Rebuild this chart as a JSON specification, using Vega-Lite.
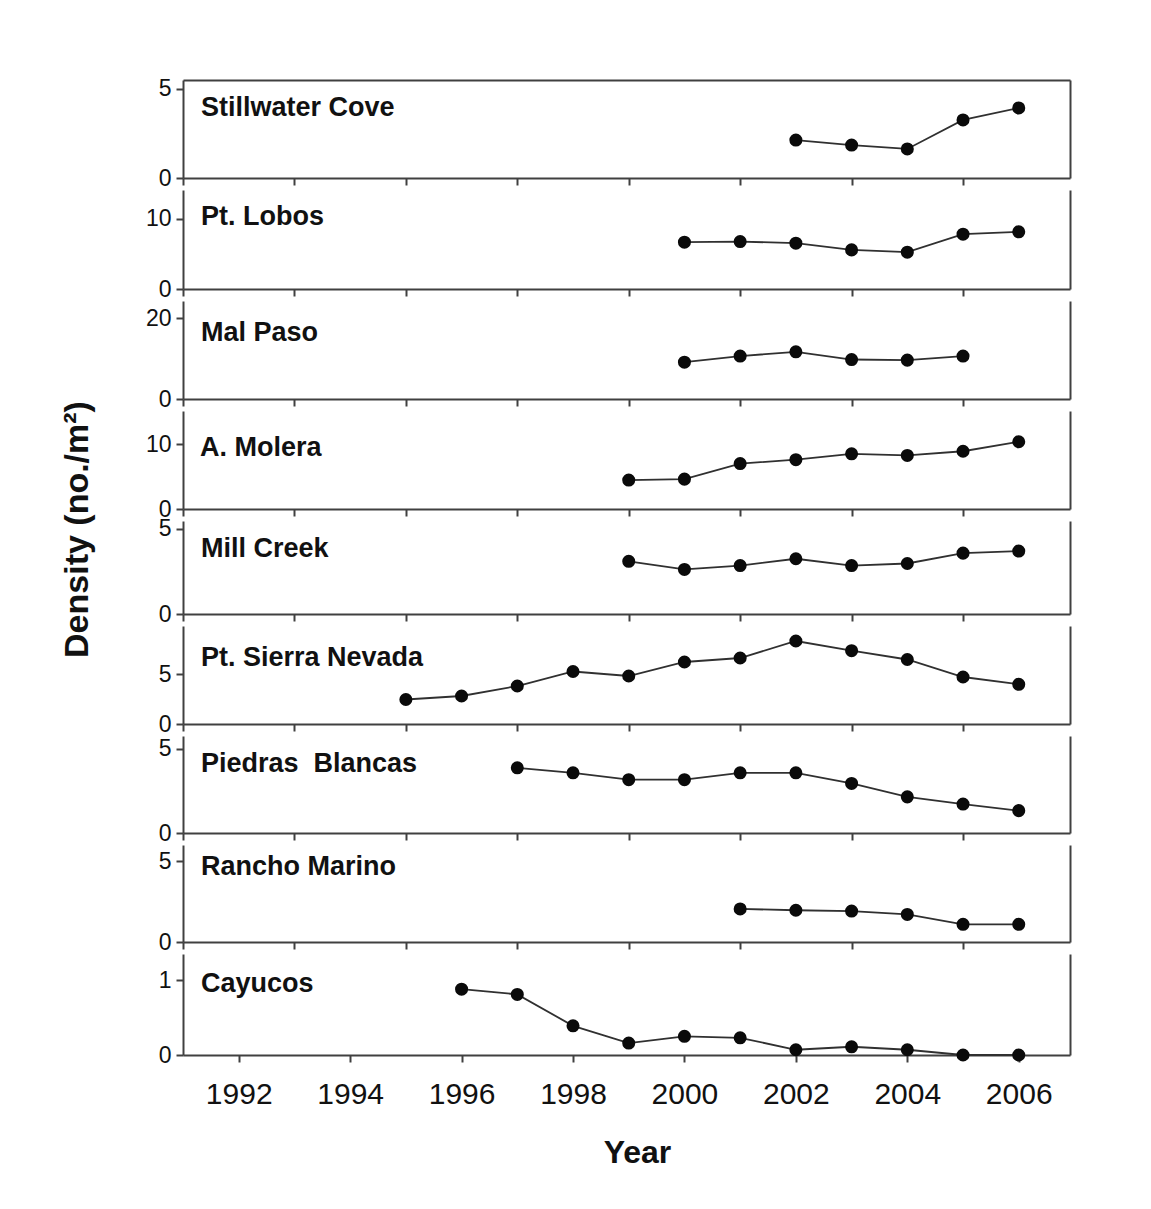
{
  "$schema": "https://vega.github.io/schema/vega-lite/v6.json",
  "background": "white",
  "padding": {"left": 60, "top": 77, "right": 20, "bottom": 20},
  "spacing": 12,
  "bounds": "flush",
  "data": {"values": [
    {"site": "Stillwater Cove", "year": 2002, "density": 2.13},
    {"site": "Stillwater Cove", "year": 2003, "density": 1.85},
    {"site": "Stillwater Cove", "year": 2004, "density": 1.63},
    {"site": "Stillwater Cove", "year": 2005, "density": 3.26},
    {"site": "Stillwater Cove", "year": 2006, "density": 3.93},
    {"site": "Pt. Lobos", "year": 2000, "density": 6.67},
    {"site": "Pt. Lobos", "year": 2001, "density": 6.76},
    {"site": "Pt. Lobos", "year": 2002, "density": 6.53},
    {"site": "Pt. Lobos", "year": 2003, "density": 5.57},
    {"site": "Pt. Lobos", "year": 2004, "density": 5.24},
    {"site": "Pt. Lobos", "year": 2005, "density": 7.81},
    {"site": "Pt. Lobos", "year": 2006, "density": 8.14},
    {"site": "Mal Paso", "year": 2000, "density": 9.1},
    {"site": "Mal Paso", "year": 2001, "density": 10.6},
    {"site": "Mal Paso", "year": 2002, "density": 11.65},
    {"site": "Mal Paso", "year": 2003, "density": 9.75},
    {"site": "Mal Paso", "year": 2004, "density": 9.6},
    {"site": "Mal Paso", "year": 2005, "density": 10.6},
    {"site": "A. Molera", "year": 1999, "density": 4.46},
    {"site": "A. Molera", "year": 2000, "density": 4.6},
    {"site": "A. Molera", "year": 2001, "density": 7.0},
    {"site": "A. Molera", "year": 2002, "density": 7.6},
    {"site": "A. Molera", "year": 2003, "density": 8.5},
    {"site": "A. Molera", "year": 2004, "density": 8.25},
    {"site": "A. Molera", "year": 2005, "density": 8.9},
    {"site": "A. Molera", "year": 2006, "density": 10.36},
    {"site": "Mill Creek", "year": 1999, "density": 3.1},
    {"site": "Mill Creek", "year": 2000, "density": 2.62},
    {"site": "Mill Creek", "year": 2001, "density": 2.85},
    {"site": "Mill Creek", "year": 2002, "density": 3.25},
    {"site": "Mill Creek", "year": 2003, "density": 2.85},
    {"site": "Mill Creek", "year": 2004, "density": 2.97},
    {"site": "Mill Creek", "year": 2005, "density": 3.58},
    {"site": "Mill Creek", "year": 2006, "density": 3.7},
    {"site": "Pt. Sierra Nevada", "year": 1995, "density": 2.45},
    {"site": "Pt. Sierra Nevada", "year": 1996, "density": 2.8},
    {"site": "Pt. Sierra Nevada", "year": 1997, "density": 3.8},
    {"site": "Pt. Sierra Nevada", "year": 1998, "density": 5.25},
    {"site": "Pt. Sierra Nevada", "year": 1999, "density": 4.8},
    {"site": "Pt. Sierra Nevada", "year": 2000, "density": 6.2},
    {"site": "Pt. Sierra Nevada", "year": 2001, "density": 6.6},
    {"site": "Pt. Sierra Nevada", "year": 2002, "density": 8.3},
    {"site": "Pt. Sierra Nevada", "year": 2003, "density": 7.33},
    {"site": "Pt. Sierra Nevada", "year": 2004, "density": 6.45},
    {"site": "Pt. Sierra Nevada", "year": 2005, "density": 4.7},
    {"site": "Pt. Sierra Nevada", "year": 2006, "density": 3.97},
    {"site": "Piedras Blancas", "year": 1997, "density": 3.88},
    {"site": "Piedras Blancas", "year": 1998, "density": 3.58},
    {"site": "Piedras Blancas", "year": 1999, "density": 3.17},
    {"site": "Piedras Blancas", "year": 2000, "density": 3.17},
    {"site": "Piedras Blancas", "year": 2001, "density": 3.58},
    {"site": "Piedras Blancas", "year": 2002, "density": 3.58},
    {"site": "Piedras Blancas", "year": 2003, "density": 2.95},
    {"site": "Piedras Blancas", "year": 2004, "density": 2.15},
    {"site": "Piedras Blancas", "year": 2005, "density": 1.72},
    {"site": "Piedras Blancas", "year": 2006, "density": 1.33},
    {"site": "Rancho Marino", "year": 2001, "density": 2.04},
    {"site": "Rancho Marino", "year": 2002, "density": 1.96},
    {"site": "Rancho Marino", "year": 2003, "density": 1.91},
    {"site": "Rancho Marino", "year": 2004, "density": 1.7},
    {"site": "Rancho Marino", "year": 2005, "density": 1.09},
    {"site": "Rancho Marino", "year": 2006, "density": 1.09},
    {"site": "Cayucos", "year": 1996, "density": 0.88},
    {"site": "Cayucos", "year": 1997, "density": 0.81},
    {"site": "Cayucos", "year": 1998, "density": 0.39},
    {"site": "Cayucos", "year": 1999, "density": 0.16},
    {"site": "Cayucos", "year": 2000, "density": 0.25},
    {"site": "Cayucos", "year": 2001, "density": 0.23},
    {"site": "Cayucos", "year": 2002, "density": 0.07},
    {"site": "Cayucos", "year": 2003, "density": 0.11},
    {"site": "Cayucos", "year": 2004, "density": 0.07},
    {"site": "Cayucos", "year": 2005, "density": 0.0},
    {"site": "Cayucos", "year": 2006, "density": 0.0}
  ]},
  "vconcat": [
    {
      "width": 887, "height": 98,
      "transform": [{"filter": "datum.site === 'Stillwater Cove'"}],
      "layer": [
        {"mark": {"type": "line", "color": "#303030", "strokeWidth": 1.8},
         "encoding": {
           "x": {"field": "year", "type": "quantitative", "scale": {"domain": [1991, 2006.92], "nice": false, "zero": false}, "axis": {"values": [1991, 1993, 1995, 1997, 1999, 2001, 2003, 2005], "labels": false, "title": null}},
           "y": {"field": "density", "type": "quantitative", "scale": {"domain": [0, 5.5], "nice": false}, "axis": {"values": [0, 5], "title": null}}}},
        {"mark": {"type": "point", "filled": true, "color": "#0a0a0a", "size": 170, "opacity": 1},
         "encoding": {
           "x": {"field": "year", "type": "quantitative", "axis": {"orient": "top", "labels": false, "ticks": false, "title": null}},
           "y": {"field": "density", "type": "quantitative", "axis": {"orient": "right", "labels": false, "ticks": false, "title": null}}}},
        {"data": {"values": [{"label": "Stillwater Cove"}]},
         "mark": {"type": "text", "align": "left", "baseline": "alphabetic", "dx": 18, "dy": 36, "font": "Liberation Sans", "fontSize": 27, "fontWeight": "bold", "color": "#111111"},
         "encoding": {"x": {"datum": 1991, "type": "quantitative", "axis": null}, "y": {"datum": 5.5, "type": "quantitative", "axis": null}, "text": {"field": "label"}}}
      ],
      "resolve": {"axis": {"x": "independent", "y": "independent"}}
    },
    {
      "width": 887, "height": 99,
      "transform": [{"filter": "datum.site === 'Pt. Lobos'"}],
      "layer": [
        {"mark": {"type": "line", "color": "#303030", "strokeWidth": 1.8},
         "encoding": {
           "x": {"field": "year", "type": "quantitative", "scale": {"domain": [1991, 2006.92], "nice": false, "zero": false}, "axis": {"values": [1991, 1993, 1995, 1997, 1999, 2001, 2003, 2005], "labels": false, "title": null}},
           "y": {"field": "density", "type": "quantitative", "scale": {"domain": [0, 14.1], "nice": false}, "axis": {"values": [0, 10], "title": null}}}},
        {"mark": {"type": "point", "filled": true, "color": "#0a0a0a", "size": 170, "opacity": 1},
         "encoding": {
           "x": {"field": "year", "type": "quantitative", "axis": null},
           "y": {"field": "density", "type": "quantitative", "axis": {"orient": "right", "labels": false, "ticks": false, "title": null}}}},
        {"data": {"values": [{"label": "Pt. Lobos"}]},
         "mark": {"type": "text", "align": "left", "baseline": "alphabetic", "dx": 18, "dy": 35, "font": "Liberation Sans", "fontSize": 27, "fontWeight": "bold", "color": "#111111"},
         "encoding": {"x": {"datum": 1991, "type": "quantitative", "axis": null}, "y": {"datum": 14.1, "type": "quantitative", "axis": null}, "text": {"field": "label"}}}
      ],
      "resolve": {"axis": {"x": "independent", "y": "independent"}}
    },
    {
      "width": 887, "height": 98,
      "transform": [{"filter": "datum.site === 'Mal Paso'"}],
      "layer": [
        {"mark": {"type": "line", "color": "#303030", "strokeWidth": 1.8},
         "encoding": {
           "x": {"field": "year", "type": "quantitative", "scale": {"domain": [1991, 2006.92], "nice": false, "zero": false}, "axis": {"values": [1991, 1993, 1995, 1997, 1999, 2001, 2003, 2005], "labels": false, "title": null}},
           "y": {"field": "density", "type": "quantitative", "scale": {"domain": [0, 24.2], "nice": false}, "axis": {"values": [0, 20], "title": null}}}},
        {"mark": {"type": "point", "filled": true, "color": "#0a0a0a", "size": 170, "opacity": 1},
         "encoding": {
           "x": {"field": "year", "type": "quantitative", "axis": null},
           "y": {"field": "density", "type": "quantitative", "axis": {"orient": "right", "labels": false, "ticks": false, "title": null}}}},
        {"data": {"values": [{"label": "Mal Paso"}]},
         "mark": {"type": "text", "align": "left", "baseline": "alphabetic", "dx": 18, "dy": 40, "font": "Liberation Sans", "fontSize": 27, "fontWeight": "bold", "color": "#111111"},
         "encoding": {"x": {"datum": 1991, "type": "quantitative", "axis": null}, "y": {"datum": 24.2, "type": "quantitative", "axis": null}, "text": {"field": "label"}}}
      ],
      "resolve": {"axis": {"x": "independent", "y": "independent"}}
    },
    {
      "width": 887, "height": 98,
      "transform": [{"filter": "datum.site === 'A. Molera'"}],
      "layer": [
        {"mark": {"type": "line", "color": "#303030", "strokeWidth": 1.8},
         "encoding": {
           "x": {"field": "year", "type": "quantitative", "scale": {"domain": [1991, 2006.92], "nice": false, "zero": false}, "axis": {"values": [1991, 1993, 1995, 1997, 1999, 2001, 2003, 2005], "labels": false, "title": null}},
           "y": {"field": "density", "type": "quantitative", "scale": {"domain": [0, 15.1], "nice": false}, "axis": {"values": [0, 10], "title": null}}}},
        {"mark": {"type": "point", "filled": true, "color": "#0a0a0a", "size": 170, "opacity": 1},
         "encoding": {
           "x": {"field": "year", "type": "quantitative", "axis": null},
           "y": {"field": "density", "type": "quantitative", "axis": {"orient": "right", "labels": false, "ticks": false, "title": null}}}},
        {"data": {"values": [{"label": "A. Molera"}]},
         "mark": {"type": "text", "align": "left", "baseline": "alphabetic", "dx": 17, "dy": 45, "font": "Liberation Sans", "fontSize": 27, "fontWeight": "bold", "color": "#111111"},
         "encoding": {"x": {"datum": 1991, "type": "quantitative", "axis": null}, "y": {"datum": 15.1, "type": "quantitative", "axis": null}, "text": {"field": "label"}}}
      ],
      "resolve": {"axis": {"x": "independent", "y": "independent"}}
    },
    {
      "width": 887, "height": 93,
      "transform": [{"filter": "datum.site === 'Mill Creek'"}],
      "layer": [
        {"mark": {"type": "line", "color": "#303030", "strokeWidth": 1.8},
         "encoding": {
           "x": {"field": "year", "type": "quantitative", "scale": {"domain": [1991, 2006.92], "nice": false, "zero": false}, "axis": {"values": [1991, 1993, 1995, 1997, 1999, 2001, 2003, 2005], "labels": false, "title": null}},
           "y": {"field": "density", "type": "quantitative", "scale": {"domain": [0, 5.47], "nice": false}, "axis": {"values": [0, 5], "title": "Density (no./m²)", "titleFontSize": 34, "titlePadding": 64, "titleY": 8}}}},
        {"mark": {"type": "point", "filled": true, "color": "#0a0a0a", "size": 170, "opacity": 1},
         "encoding": {
           "x": {"field": "year", "type": "quantitative", "axis": null},
           "y": {"field": "density", "type": "quantitative", "axis": {"orient": "right", "labels": false, "ticks": false, "title": null}}}},
        {"data": {"values": [{"label": "Mill Creek"}]},
         "mark": {"type": "text", "align": "left", "baseline": "alphabetic", "dx": 18, "dy": 36, "font": "Liberation Sans", "fontSize": 27, "fontWeight": "bold", "color": "#111111"},
         "encoding": {"x": {"datum": 1991, "type": "quantitative", "axis": null}, "y": {"datum": 5.47, "type": "quantitative", "axis": null}, "text": {"field": "label"}}}
      ],
      "resolve": {"axis": {"x": "independent", "y": "independent"}}
    },
    {
      "width": 887, "height": 98,
      "transform": [{"filter": "datum.site === 'Pt. Sierra Nevada'"}],
      "layer": [
        {"mark": {"type": "line", "color": "#303030", "strokeWidth": 1.8},
         "encoding": {
           "x": {"field": "year", "type": "quantitative", "scale": {"domain": [1991, 2006.92], "nice": false, "zero": false}, "axis": {"values": [1991, 1993, 1995, 1997, 1999, 2001, 2003, 2005], "labels": false, "title": null}},
           "y": {"field": "density", "type": "quantitative", "scale": {"domain": [0, 9.8], "nice": false}, "axis": {"values": [0, 5], "title": null}}}},
        {"mark": {"type": "point", "filled": true, "color": "#0a0a0a", "size": 170, "opacity": 1},
         "encoding": {
           "x": {"field": "year", "type": "quantitative", "axis": null},
           "y": {"field": "density", "type": "quantitative", "axis": {"orient": "right", "labels": false, "ticks": false, "title": null}}}},
        {"data": {"values": [{"label": "Pt. Sierra Nevada"}]},
         "mark": {"type": "text", "align": "left", "baseline": "alphabetic", "dx": 18, "dy": 40, "font": "Liberation Sans", "fontSize": 27, "fontWeight": "bold", "color": "#111111"},
         "encoding": {"x": {"datum": 1991, "type": "quantitative", "axis": null}, "y": {"datum": 9.8, "type": "quantitative", "axis": null}, "text": {"field": "label"}}}
      ],
      "resolve": {"axis": {"x": "independent", "y": "independent"}}
    },
    {
      "width": 887, "height": 97,
      "transform": [{"filter": "datum.site === 'Piedras Blancas'"}],
      "layer": [
        {"mark": {"type": "line", "color": "#303030", "strokeWidth": 1.8},
         "encoding": {
           "x": {"field": "year", "type": "quantitative", "scale": {"domain": [1991, 2006.92], "nice": false, "zero": false}, "axis": {"values": [1991, 1993, 1995, 1997, 1999, 2001, 2003, 2005], "labels": false, "title": null}},
           "y": {"field": "density", "type": "quantitative", "scale": {"domain": [0, 5.77], "nice": false}, "axis": {"values": [0, 5], "title": null}}}},
        {"mark": {"type": "point", "filled": true, "color": "#0a0a0a", "size": 170, "opacity": 1},
         "encoding": {
           "x": {"field": "year", "type": "quantitative", "axis": null},
           "y": {"field": "density", "type": "quantitative", "axis": {"orient": "right", "labels": false, "ticks": false, "title": null}}}},
        {"data": {"values": [{"label": "Piedras\u00a0 Blancas"}]},
         "mark": {"type": "text", "align": "left", "baseline": "alphabetic", "dx": 18, "dy": 36, "font": "Liberation Sans", "fontSize": 27, "fontWeight": "bold", "color": "#111111"},
         "encoding": {"x": {"datum": 1991, "type": "quantitative", "axis": null}, "y": {"datum": 5.77, "type": "quantitative", "axis": null}, "text": {"field": "label"}}}
      ],
      "resolve": {"axis": {"x": "independent", "y": "independent"}}
    },
    {
      "width": 887, "height": 97,
      "transform": [{"filter": "datum.site === 'Rancho Marino'"}],
      "layer": [
        {"mark": {"type": "line", "color": "#303030", "strokeWidth": 1.8},
         "encoding": {
           "x": {"field": "year", "type": "quantitative", "scale": {"domain": [1991, 2006.92], "nice": false, "zero": false}, "axis": {"values": [1991, 1993, 1995, 1997, 1999, 2001, 2003, 2005], "labels": false, "title": null}},
           "y": {"field": "density", "type": "quantitative", "scale": {"domain": [0, 5.99], "nice": false}, "axis": {"values": [0, 5], "title": null}}}},
        {"mark": {"type": "point", "filled": true, "color": "#0a0a0a", "size": 170, "opacity": 1},
         "encoding": {
           "x": {"field": "year", "type": "quantitative", "axis": null},
           "y": {"field": "density", "type": "quantitative", "axis": {"orient": "right", "labels": false, "ticks": false, "title": null}}}},
        {"data": {"values": [{"label": "Rancho Marino"}]},
         "mark": {"type": "text", "align": "left", "baseline": "alphabetic", "dx": 18, "dy": 30, "font": "Liberation Sans", "fontSize": 27, "fontWeight": "bold", "color": "#111111"},
         "encoding": {"x": {"datum": 1991, "type": "quantitative", "axis": null}, "y": {"datum": 5.99, "type": "quantitative", "axis": null}, "text": {"field": "label"}}}
      ],
      "resolve": {"axis": {"x": "independent", "y": "independent"}}
    },
    {
      "width": 887, "height": 101,
      "transform": [{"filter": "datum.site === 'Cayucos'"}],
      "layer": [
        {"mark": {"type": "line", "color": "#303030", "strokeWidth": 1.8},
         "encoding": {
           "x": {"field": "year", "type": "quantitative", "scale": {"domain": [1991, 2006.92], "nice": false, "zero": false}, "axis": {"values": [1992, 1994, 1996, 1998, 2000, 2002, 2004, 2006], "format": "d", "labelFontSize": 30, "labelPadding": 17, "title": "Year", "titleFontSize": 32, "titlePadding": 28, "titleX": 454}},
           "y": {"field": "density", "type": "quantitative", "scale": {"domain": [0, 1.35], "nice": false}, "axis": {"values": [0, 1], "format": "d", "title": null}}}},
        {"mark": {"type": "point", "filled": true, "color": "#0a0a0a", "size": 170, "opacity": 1},
         "encoding": {
           "x": {"field": "year", "type": "quantitative", "axis": null},
           "y": {"field": "density", "type": "quantitative", "axis": {"orient": "right", "labels": false, "ticks": false, "title": null}}}},
        {"data": {"values": [{"label": "Cayucos"}]},
         "mark": {"type": "text", "align": "left", "baseline": "alphabetic", "dx": 18, "dy": 38, "font": "Liberation Sans", "fontSize": 27, "fontWeight": "bold", "color": "#111111"},
         "encoding": {"x": {"datum": 1991, "type": "quantitative", "axis": null}, "y": {"datum": 1.35, "type": "quantitative", "axis": null}, "text": {"field": "label"}}}
      ],
      "resolve": {"axis": {"x": "independent", "y": "independent"}}
    }
  ],
  "config": {
    "font": "Liberation Sans",
    "view": {"stroke": null},
    "axis": {"domainColor": "#404040", "domainWidth": 2, "tickColor": "#404040", "tickWidth": 2, "tickSize": 7, "labelFont": "Liberation Sans", "labelFontSize": 23, "labelColor": "#111111", "labelPadding": 5, "grid": false, "labelFlush": false, "labelOverlap": false, "titleFont": "Liberation Sans", "titleFontWeight": "bold", "titleColor": "#111111"}
  }
}
